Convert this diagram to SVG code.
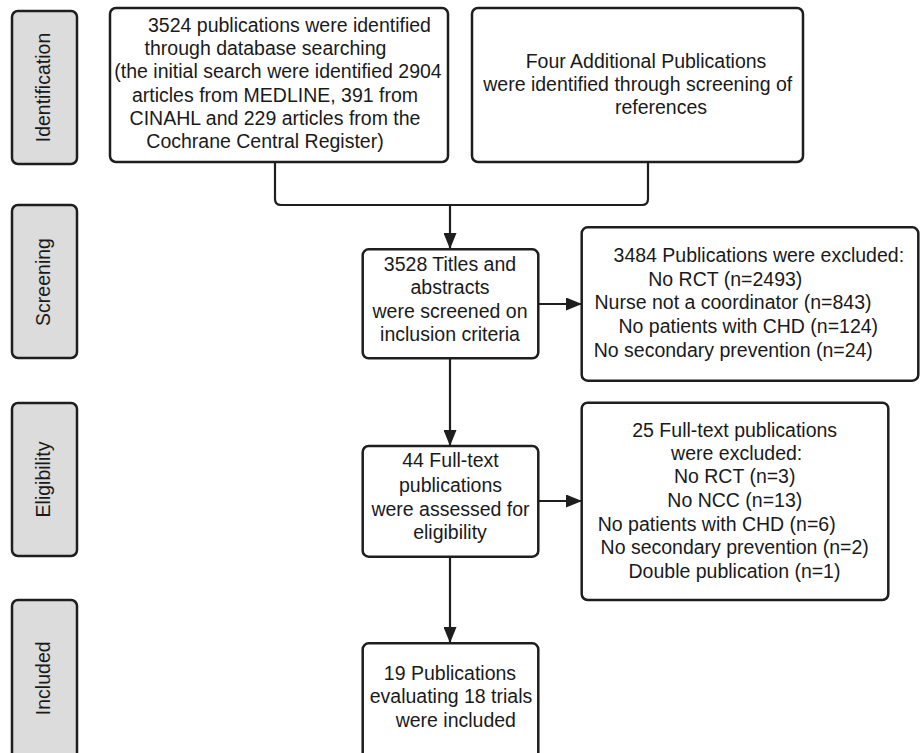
<svg xmlns="http://www.w3.org/2000/svg" width="923" height="753" viewBox="0 0 923 753">
<style>
.box{fill:#ffffff;stroke:#1e1e1e;stroke-width:2.5}
.side{fill:#dcdcdc;stroke:#1e1e1e;stroke-width:2.5}
.t{font-family:"Liberation Sans",Arial,sans-serif;font-size:19.5px;fill:#1a1a1a;text-anchor:middle}
.con{fill:none;stroke:#1e1e1e;stroke-width:2.2}
</style>
<defs>
<marker id="arr" viewBox="0 0 16 13" refX="16" refY="6.5" markerWidth="16" markerHeight="13" markerUnits="userSpaceOnUse" orient="auto">
<path d="M0,0 L16,6.5 L0,13 z" fill="#1e1e1e"/>
</marker>
</defs>
<rect width="923" height="753" fill="#ffffff"/>
<g id="connectors">
<path class="con" d="M275,162 V199 Q275,205 281,205 H642 Q648,205 648,199 V162"/>
<path class="con" d="M450,205 V249" marker-end="url(#arr)"/>
<path class="con" d="M538,304 H582" marker-end="url(#arr)"/>
<path class="con" d="M450,358 V446" marker-end="url(#arr)"/>
<path class="con" d="M538,501 H582" marker-end="url(#arr)"/>
<path class="con" d="M450,556 V643" marker-end="url(#arr)"/>
</g>
<g id="side-identification">
<rect class="side" x="12" y="11" width="65" height="153" rx="6"/>
<text class="t" transform="translate(50,87.5) rotate(-90)">Identification</text>
</g>
<g id="side-screening">
<rect class="side" x="12" y="205" width="65" height="153" rx="6"/>
<text class="t" transform="translate(50,282) rotate(-90)">Screening</text>
</g>
<g id="side-eligibility">
<rect class="side" x="12" y="403" width="65" height="153" rx="6"/>
<text class="t" transform="translate(50,479.5) rotate(-90)">Eligibility</text>
</g>
<g id="side-included">
<rect class="side" x="12" y="600" width="65" height="165" rx="6"/>
<text class="t" transform="translate(50,678.3) rotate(-90)">Included</text>
</g>
<g id="box-database">
<rect class="box" x="110" y="8" width="338" height="154" rx="6"/>
<text class="t" x="289.5" y="31.5">3524 publications were identified</text>
<text class="t" x="265.5" y="55">through database searching</text>
<text class="t" x="278" y="78">(the initial search were identified 2904</text>
<text class="t" x="275" y="101.5">articles from MEDLINE, 391 from</text>
<text class="t" x="275" y="125">CINAHL and 229 articles from the</text>
<text class="t" x="265" y="148">Cochrane Central Register)</text>
</g>
<g id="box-additional">
<rect class="box" x="472" y="8" width="331" height="154" rx="6"/>
<text class="t" x="646" y="67.7">Four Additional Publications</text>
<text class="t" x="637.7" y="91">were identified through screening of</text>
<text class="t" x="661" y="114.3">references</text>
</g>
<g id="box-screening">
<rect class="box" x="362.7" y="249.3" width="175.6" height="109" rx="6"/>
<text class="t" x="450" y="270.7">3528 Titles and</text>
<text class="t" x="450" y="294.3">abstracts</text>
<text class="t" x="450" y="317.7">were screened on</text>
<text class="t" x="450" y="341">inclusion criteria</text>
</g>
<g id="box-excluded1">
<rect class="box" x="581.7" y="227.3" width="336.6" height="153.4" rx="6"/>
<text class="t" x="758.8" y="262.3">3484 Publications were excluded:</text>
<text class="t" x="725.3" y="285.7">No RCT (n=2493)</text>
<text class="t" x="733" y="309.3">Nurse not a coordinator (n=843)</text>
<text class="t" x="748.3" y="333.3">No patients with CHD (n=124)</text>
<text class="t" x="733.3" y="356.7">No secondary prevention (n=24)</text>
</g>
<g id="box-eligibility">
<rect class="box" x="362.7" y="446" width="175.6" height="110.7" rx="6"/>
<text class="t" x="450.5" y="467.3">44 Full-text</text>
<text class="t" x="450.5" y="492.3">publications</text>
<text class="t" x="450.5" y="516">were assessed for</text>
<text class="t" x="450" y="539">eligibility</text>
</g>
<g id="box-excluded2">
<rect class="box" x="581.7" y="402.7" width="306.6" height="197.3" rx="6"/>
<text class="t" x="734.7" y="436.7">25 Full-text publications</text>
<text class="t" x="736.7" y="460">were excluded:</text>
<text class="t" x="734.7" y="483.3">No RCT (n=3)</text>
<text class="t" x="734.8" y="506.7">No NCC (n=13)</text>
<text class="t" x="716.7" y="530.7">No patients with CHD (n=6)</text>
<text class="t" x="734.7" y="554.3">No secondary prevention (n=2)</text>
<text class="t" x="734.5" y="578.3">Double publication (n=1)</text>
</g>
<g id="box-included">
<rect class="box" x="362.7" y="643.3" width="175.6" height="120" rx="6"/>
<text class="t" x="450" y="680">19 Publications</text>
<text class="t" x="451" y="702.7">evaluating 18 trials</text>
<text class="t" x="455.8" y="726.7">were included</text>
</g>
</svg>
